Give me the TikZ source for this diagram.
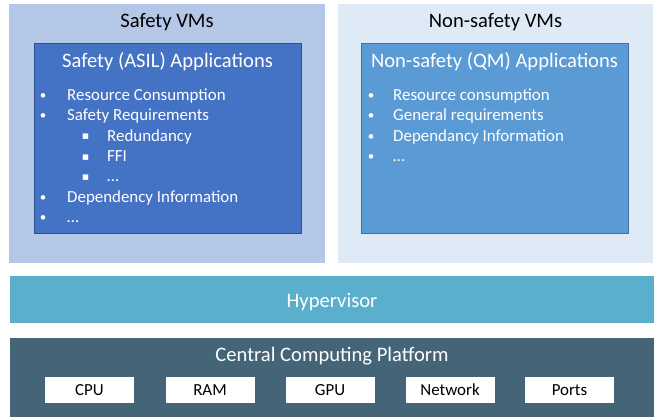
\documentclass[tikz,border=0pt]{standalone}
\usepackage{fontspec}
\setmainfont{Carlito}
\newfontfamily\symfont{DejaVu Sans}
\definecolor{safeout}{HTML}{B4C7E7}
\definecolor{nsafeout}{HTML}{DEEBF7}
\definecolor{safein}{HTML}{4472C4}
\definecolor{safeinb}{HTML}{2F528F}
\definecolor{nsafein}{HTML}{5B9BD5}
\definecolor{nsafeinb}{HTML}{41719C}
\definecolor{hyper}{HTML}{5AAFCD}
\definecolor{ccp}{HTML}{436577}
\tikzset{
  panel/.style={inner sep=0pt, outer sep=0pt, minimum width=#1},
  big/.style={font=\fontsize{20.6}{24}\selectfont},
  small/.style={font=\fontsize{16.9}{20}\selectfont},
  item/.style={small, text=white, anchor=base west, inner sep=0pt},
  bul/.style={font=\fontsize{13}{16}\selectfont, text=white, anchor=base, inner sep=0pt},
  sq/.style={font=\symfont\fontsize{11}{13}\selectfont, text=white, anchor=base, inner sep=0pt},
  hw/.style={fill=white, minimum width=89pt, minimum height=26pt, inner sep=0pt, small, text=black},
}
\begin{document}
\begin{tikzpicture}[x=1pt,y=-1pt]
\useasboundingbox (0,0) rectangle (659,417);
% VM panels
\node[panel=316pt, minimum height=259pt, fill=safeout] (svm) at (167,133.5) {};
\node[panel=315pt, minimum height=259pt, fill=nsafeout] (nvm) at (495.5,133.5) {};
\node[big, anchor=base, inner sep=0pt] (svmt) at (167,27.5) {Safety VMs};
\node[big, anchor=base, inner sep=0pt] (nvmt) at (495.5,27.5) {Non-safety VMs};
% application boxes
\node[panel=267pt, minimum height=190pt, fill=safein, draw=safeinb, line width=0.8pt] (sapp) at (167.5,138) {};
\node[panel=267pt, minimum height=190pt, fill=nsafein, draw=nsafeinb, line width=0.8pt] (napp) at (494.5,138) {};
\node[big, text=white, anchor=base, inner sep=0pt] (sappt) at (167.5,67.5) {Safety (ASIL) Applications};
\node[big, text=white, anchor=base, inner sep=0pt] (nappt) at (494.5,67.5) {Non-safety (QM) Applications};
% safety list
\node[bul] (sb1) at (43,99.5) {•};
\node[item] (si1) at (67,100.5) {Resource Consumption};
\node[bul] (sb2) at (43,119.8) {•};
\node[item] (si2) at (67,120.8) {Safety Requirements};
\node[sq] (ss1) at (85.5,140) {▪};
\node[item] (ssi1) at (107,141.1) {Redundancy};
\node[sq] (ss2) at (85.5,160.3) {▪};
\node[item] (ssi2) at (107,161.4) {FFI};
\node[sq] (ss3) at (85.5,180.6) {▪};
\node[item] (ssi3) at (107,181.7) {…};
\node[bul] (sb3) at (43,201) {•};
\node[item] (si3) at (67,202) {Dependency Information};
\node[bul] (sb4) at (43,221.3) {•};
\node[item] (si4) at (67,222.3) {…};
% non-safety list
\node[bul] (nb1) at (371,99.5) {•};
\node[item] (ni1) at (393,100.5) {Resource consumption};
\node[bul] (nb2) at (371,119.8) {•};
\node[item] (ni2) at (393,120.8) {General requirements};
\node[bul] (nb3) at (371,140.1) {•};
\node[item] (ni3) at (393,141.1) {Dependancy Information};
\node[bul] (nb4) at (371,160.4) {•};
\node[item] (ni4) at (393,161.4) {…};
% hypervisor
\node[panel=644pt, minimum height=47pt, fill=hyper] (hyp) at (332,299.5) {};
\node[big, text=white, anchor=base, inner sep=0pt] (hypt) at (332,307) {Hypervisor};
% platform
\node[panel=644pt, minimum height=79pt, fill=ccp] (plat) at (332,377.5) {};
\node[big, text=white, anchor=base, inner sep=0pt] (platt) at (332,361.5) {Central Computing Platform};
\node[hw] (cpu) at (89.5,390) {CPU};
\node[hw] (ram) at (210,390) {RAM};
\node[hw] (gpu) at (330,390) {GPU};
\node[hw] (net) at (450,390) {Network};
\node[hw] (ports) at (569.5,390) {Ports};
\end{tikzpicture}
\end{document}
